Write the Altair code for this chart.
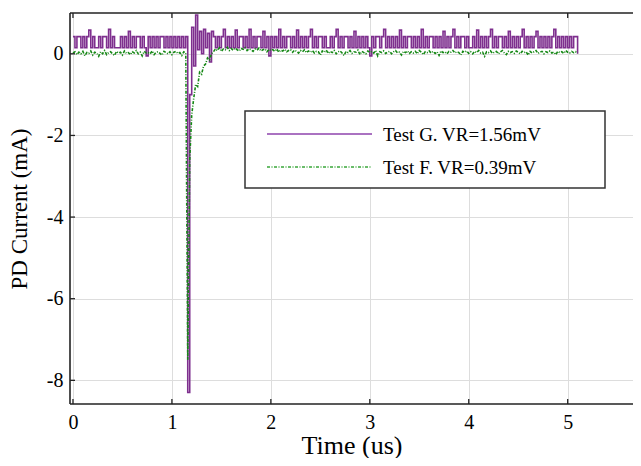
import altair as alt
import numpy as np
import pandas as pd

DT = 0.02  # sampling step in us

series_names = ["Test G. VR=1.56mV", "Test F. VR=0.39mV"]
series_colors = ["#7E2F8E", "#168816"]
series_dash = [[1, 0], [3, 1.5, 1, 1.5]]

test_g = [
    0.42,0.15,0.42,0.42,0.15,0.42,0.15,0.42,0.58,0.15,
    0.42,0.15,0.15,0.42,0.15,0.42,0.42,0.15,0.6,0.15,
    0.42,0.15,0.15,0.15,0.42,0.15,0.42,0.15,0.55,0.15,
    0.42,0.15,0.42,0.42,0.15,0.42,0.15,-0.05,0.42,0.15,
    0.42,0.15,0.42,0.15,0.42,0.42,0.15,0.42,0.15,0.42,
    0.15,0.42,0.15,0.42,0.15,0.42,0.15,0.42,
    -8.3,-1.0,0.65,-0.3,0.95,0.1,0.55,0.0,0.6,0.15,0.5,-0.2,0.55,
    0.42,0.15,0.42,0.15,0.42,0.6,0.15,0.42,0.15,0.42,
    0.15,0.58,0.15,0.42,0.42,0.15,0.42,0.15,0.6,0.15,
    0.42,0.15,0.42,0.42,0.15,0.55,0.15,0.42,-0.05,0.42,
    0.15,0.42,0.15,0.6,0.15,0.42,0.15,0.42,0.42,0.15,
    0.42,0.15,0.58,0.15,0.42,0.15,0.42,0.15,0.42,0.6,
    0.15,0.42,0.15,0.42,0.42,0.15,0.42,0.15,0.15,0.42,
    0.15,0.42,0.6,0.15,0.42,0.15,0.42,0.42,0.15,0.42,
    0.15,0.55,0.15,0.42,0.15,0.42,0.15,0.42,0.15,-0.05,
    0.42,0.15,0.42,0.42,0.15,0.42,0.6,0.15,0.42,0.15,
    0.42,0.15,0.42,0.15,0.58,0.15,0.42,0.15,0.42,0.42,
    0.15,0.42,0.15,0.42,0.15,0.6,0.15,0.42,0.15,0.42,
    0.42,0.15,0.42,0.15,0.42,0.15,0.55,0.15,0.42,0.15,
    0.42,0.6,0.15,0.42,0.15,0.42,0.42,0.15,0.42,0.15,
    0.15,0.42,0.15,0.58,0.15,0.42,0.15,0.42,0.15,0.42,
    0.6,0.15,0.42,0.15,0.42,0.42,0.15,0.42,0.15,0.55,
    0.15,0.42,0.15,0.42,0.15,0.42,0.6,0.15,0.42,0.15,
    0.42,0.15,0.42,0.55,0.15,0.42,0.15,0.42,0.15,0.42,
    0.15,0.42,0.6,0.15,0.42,0.15,0.42,0.15,0.42,0.15,
    0.42,0.15,0.42,0.42,0.0,
]

test_f = [
    0.02,0.05,-0.02,0.04,0.0,0.06,-0.05,0.03,0.01,0.07,
    -0.03,0.04,0.02,-0.06,0.05,0.0,0.08,-0.02,0.03,0.05,
    0.0,-0.04,0.06,0.02,0.04,-0.03,0.07,0.01,0.03,-0.02,
    0.05,0.02,0.08,0.0,0.04,-0.05,0.06,0.02,0.03,0.0,
    0.07,-0.02,0.04,0.05,0.01,-0.03,0.06,0.03,0.0,0.05,
    -0.02,0.04,0.06,0.01,0.03,-0.04,0.05,0.02,
    -7.5,-2.6,-1.5,-1.1,-0.75,-0.8,-0.45,-0.5,-0.3,-0.25,-0.1,-0.15,0.0,
    0.05,0.12,0.08,0.15,0.06,0.12,0.1,0.16,0.08,0.13,
    0.09,0.14,0.1,0.07,0.13,0.11,0.15,0.08,0.12,0.1,
    0.06,0.12,0.09,0.14,0.07,0.1,0.12,0.05,0.11,0.08,
    0.1,0.06,0.12,0.04,0.09,0.07,0.11,0.05,0.08,0.1,
    0.04,0.09,0.06,0.02,0.08,0.05,0.1,0.03,0.07,0.04,
    0.08,0.02,0.06,0.05,-0.03,0.07,0.04,0.09,0.01,0.06,
    0.03,0.08,0.0,0.05,0.07,0.02,-0.04,0.06,0.03,0.08,
    0.01,0.05,0.04,0.09,-0.02,0.06,0.03,0.0,0.07,0.04,
    0.06,0.02,0.08,-0.05,0.05,0.03,0.07,0.01,0.04,0.06,
    0.0,0.05,0.08,0.02,0.04,-0.03,0.06,0.03,0.07,0.01,
    0.05,0.02,0.06,0.0,0.08,0.04,-0.02,0.05,0.03,0.07,
    0.02,0.06,0.01,0.05,-0.04,0.07,0.03,0.05,0.0,0.06,
    0.04,0.08,0.02,0.05,0.03,-0.03,0.06,0.04,0.07,0.01,
    0.05,0.0,0.06,0.03,0.08,0.02,0.04,-0.06,0.05,0.03,
    0.07,0.01,0.04,0.06,0.0,0.05,0.08,0.02,-0.02,0.06,
    0.03,0.05,0.01,0.07,0.04,0.0,0.06,0.03,0.05,-0.03,
    0.06,0.02,0.05,0.08,0.01,0.04,0.06,0.0,0.05,0.03,
    0.07,0.02,0.04,-0.02,0.06,0.03,0.05,0.01,0.08,0.04,
    0.02,0.06,0.03,0.05,0.01,
]

x_ticks = [0, 1, 2, 3, 4, 5]
y_ticks = [0, -2, -4, -6, -8]
x_domain = [-0.03, 5.66]
y_domain = [-8.58, 1.0]

W, H = 563, 391
FONT = "Liberation Serif"

xs = alt.Scale(domain=x_domain, nice=False, zero=False)
ys = alt.Scale(domain=y_domain, nice=False, zero=False)
x_axis = alt.Axis(values=x_ticks, labelExpr="'' + datum.value")
y_axis = alt.Axis(values=y_ticks, labelExpr="'' + datum.value")
X_TITLE = "Time (us)"
Y_TITLE = "PD Current (mA)"

layers = []
interp = ["step-after", "linear"]
widths = [1.6, 1.6]
for name, vals, col, dash, ip, sw in zip(series_names, [test_g, test_f], series_colors,
                                         series_dash, interp, widths):
    d = pd.DataFrame({"t": np.arange(len(vals)) * DT, "v": vals})
    layers.append(
        alt.Chart(d).mark_line(strokeWidth=sw, color=col, strokeDash=dash,
                               interpolate=ip, clip=True).encode(
            x=alt.X("t:Q", scale=xs, axis=x_axis, title=X_TITLE),
            y=alt.Y("v:Q", scale=ys, axis=y_axis, title=Y_TITLE),
        )
    )

xt = pd.DataFrame({"t": x_ticks})
yt = pd.DataFrame({"v": y_ticks})
frame_color = "#222"
def xrule(y0, y1):
    return alt.Chart(xt).mark_rule(color=frame_color, strokeWidth=1.3).encode(
        x=alt.X("t:Q", scale=xs, axis=x_axis, title=X_TITLE),
        y=alt.value(y0), y2=alt.value(y1))
def yrule(x0, x1):
    return alt.Chart(yt).mark_rule(color=frame_color, strokeWidth=1.3).encode(
        y=alt.Y("v:Q", scale=ys, axis=y_axis, title=Y_TITLE),
        x=alt.value(x0), x2=alt.value(x1))
layers += [xrule(0, 5), xrule(H - 5, H), yrule(0, 5)]

one = pd.DataFrame({"k": [0]})
# frame: top, bottom, left (right edge lies beyond the visible page)
layers.append(alt.Chart(one).mark_rule(color=frame_color, strokeWidth=1.6).encode(
    x=alt.value(0), x2=alt.value(W), y=alt.value(0)))
layers.append(alt.Chart(one).mark_rule(color=frame_color, strokeWidth=1.6).encode(
    x=alt.value(0), x2=alt.value(W), y=alt.value(H)))
layers.append(alt.Chart(one).mark_rule(color=frame_color, strokeWidth=1.6).encode(
    x=alt.value(0), y=alt.value(0), y2=alt.value(H)))

# legend box (drawn in pixel space inside the plot)
LX0, LX1, LY0, LY1 = 175, 535, 98, 175
layers.append(alt.Chart(one).mark_rect(fill="white", stroke="#333", strokeWidth=1.5).encode(
    x=alt.value(LX0), x2=alt.value(LX1), y=alt.value(LY0), y2=alt.value(LY1)))
row_y = [121, 154]
legend_colors = ["#8E44AD", "#3AA63A"]
for name, col, dash, ry in zip(series_names, legend_colors, series_dash, row_y):
    layers.append(alt.Chart(one).mark_rule(color=col, strokeWidth=1.3, strokeDash=dash).encode(
        x=alt.value(LX0 + 22), x2=alt.value(LX0 + 127), y=alt.value(ry)))
    layers.append(alt.Chart(pd.DataFrame({"label": [name]})).mark_text(
        font=FONT, fontSize=19, color="black", align="left", baseline="middle").encode(
        x=alt.value(LX0 + 138), y=alt.value(ry + 1), text="label:N"))

chart = alt.layer(*layers).properties(
    width=W, height=H,
    autosize=alt.AutoSizeParams(type="none"),
    padding={"left": 62, "top": 5, "right": 0, "bottom": 54},
).configure_view(
    stroke=None
).configure_axis(
    grid=True, gridColor="#dddddd", gridWidth=1,
    domain=False, ticks=False,
    labelFont=FONT, labelFontSize=20, labelColor="black",
    titleFont=FONT, titleColor="black", titleFontWeight="normal",
).configure_axisX(
    labelPadding=8, titlePadding=0, titleFontSize=26,
).configure_axisY(
    labelPadding=7, titlePadding=15, titleFontSize=23,
)

chart.save("out.html", embed_options={"renderer": "svg", "actions": False})
